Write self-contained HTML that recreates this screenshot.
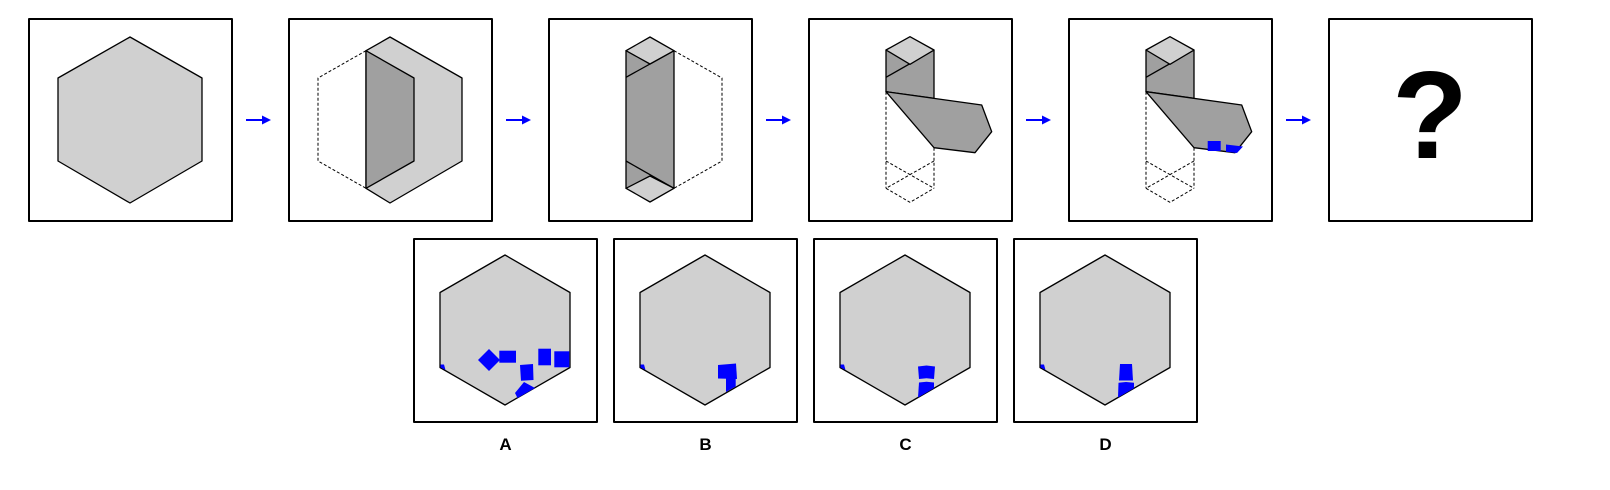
<!DOCTYPE html>
<html><head><meta charset="utf-8"><style>
html,body{margin:0;padding:0;background:#fff;}
svg{display:block;}
text{font-family:"Liberation Sans",Arial,sans-serif;}
</style></head><body>
<svg width="1610" height="490" viewBox="0 0 1610 490">
<defs>
<g id="arrow"><line x1="0" y1="0" x2="18" y2="0" stroke="#0000ff" stroke-width="2"/><polygon points="16,-4.5 25,0 16,4.5" fill="#0000ff"/></g>
</defs>
<g stroke="#000" stroke-linejoin="round">
<g transform="translate(29,19)">
<rect x="0" y="0" width="203" height="202" fill="#fff" stroke-width="2"/>
<polygon points="101,18 173,59 173,142 101,184 29,142 29,59" fill="#d0d0d0" stroke-width="1.3"/>
</g>
<use href="#arrow" x="246" y="120" stroke="none"/>
<g transform="translate(289,19)">
<rect x="0" y="0" width="203" height="202" fill="#fff" stroke-width="2"/>
<polyline points="77,31.7 29,59 29,142 77,169.3" fill="none" stroke-width="1" stroke-dasharray="3,2"/>
<polygon points="77,31.7 101,18 173,59 173,142 101,184 77,169.3" fill="#d0d0d0" stroke-width="1.3"/>
<polygon points="77,31.7 125,59 125,142 77,169.3" fill="#a0a0a0" stroke-width="1.3"/>
</g>
<use href="#arrow" x="506" y="120" stroke="none"/>
<g transform="translate(549,19)">
<rect x="0" y="0" width="203" height="202" fill="#fff" stroke-width="2"/>
<polyline points="125,31.7 173,59 173,142 125,169.3" fill="none" stroke-width="1" stroke-dasharray="3,2"/>
<rect x="77" y="31.7" width="48" height="137.6" fill="#a0a0a0" stroke-width="1.3"/>
<line x1="77" y1="58.3" x2="125" y2="31.7" stroke-width="1.3"/>
<line x1="77" y1="142" x2="125" y2="169.3" stroke-width="1.3"/>
<polygon points="77,31.7 101,18 125,31.7 101,45" fill="#d0d0d0" stroke-width="1.3"/>
<polygon points="77,169.3 101,157 125,169.3 101,183" fill="#d0d0d0" stroke-width="1.3"/>
</g>
<use href="#arrow" x="766" y="120" stroke="none"/>
<g transform="translate(809,19)">
<rect x="0" y="0" width="203" height="202" fill="#fff" stroke-width="2"/>
<g fill="none" stroke-width="1" stroke-dasharray="3,2">
<line x1="77" y1="72.7" x2="77" y2="169.3"/><line x1="125" y1="128.7" x2="125" y2="169.3"/>
<line x1="77" y1="142" x2="125" y2="169.3"/><line x1="125" y1="142" x2="77" y2="169.3"/>
<polyline points="77,169.3 101,183.3 125,169.3"/>
</g>
<polygon points="77,31 125,31 125,79.3 77,72.7" fill="#a0a0a0" stroke-width="1.3"/>
<line x1="77" y1="58.3" x2="125" y2="31" stroke-width="1.3"/>
<polygon points="77,31 101,17.7 125,31 101,45.3" fill="#d0d0d0" stroke-width="1.3"/>
<polygon points="77,72.7 172.7,86 182.7,112.7 166,133.7 125,128.7" fill="#a0a0a0" stroke-width="1.3"/>
</g>
<use href="#arrow" x="1026" y="120" stroke="none"/>
<g transform="translate(1069,19)">
<rect x="0" y="0" width="203" height="202" fill="#fff" stroke-width="2"/>
<g fill="none" stroke-width="1" stroke-dasharray="3,2">
<line x1="77" y1="72.7" x2="77" y2="169.3"/><line x1="125" y1="128.7" x2="125" y2="169.3"/>
<line x1="77" y1="142" x2="125" y2="169.3"/><line x1="125" y1="142" x2="77" y2="169.3"/>
<polyline points="77,169.3 101,183.3 125,169.3"/>
</g>
<polygon points="77,31 125,31 125,79.3 77,72.7" fill="#a0a0a0" stroke-width="1.3"/>
<line x1="77" y1="58.3" x2="125" y2="31" stroke-width="1.3"/>
<polygon points="77,31 101,17.7 125,31 101,45.3" fill="#d0d0d0" stroke-width="1.3"/>
<polygon points="77,72.7 172.7,86 182.7,112.7 166,133.7 125,128.7" fill="#a0a0a0" stroke-width="1.3"/>
<g stroke="none" fill="#0000ff">
<rect x="138.7" y="122" width="13" height="10"/>
<polygon points="157,125.5 174,127.5 168,134 157,132.8"/>
</g>
</g>
<use href="#arrow" x="1286" y="120" stroke="none"/>
<g transform="translate(1329,19)">
<rect x="0" y="0" width="203" height="202" fill="#fff" stroke-width="2"/>
</g>
</g>
<text x="1430" y="158" text-anchor="middle" font-size="124" font-weight="bold" fill="#000">?</text>

<g stroke="#000" stroke-linejoin="round">
<g transform="translate(414,239)">
<rect x="0" y="0" width="183" height="183" fill="#fff" stroke-width="2"/>
<polygon points="91,16 156,53.5 156,128.5 91,166 26,128.5 26,53.5" fill="#d0d0d0" stroke-width="1.3"/>
<g stroke="none" fill="#0000ff">
<polygon points="26.5,125.5 30,125.5 31.5,131 26.5,128.5"/>
<polygon points="75,110 86,121 75,132 64,121"/>
<rect x="85.3" y="111.7" width="16.7" height="12"/>
<rect x="124.3" y="109.7" width="12.7" height="16.6"/>
<rect x="140.3" y="112.3" width="15" height="16"/>
<polygon points="106,126 119,125 119.5,141 107,141.7"/>
<polygon points="101,154 110,143 121,149 103.5,159"/>
</g>
</g>
<g transform="translate(614,239)">
<rect x="0" y="0" width="183" height="183" fill="#fff" stroke-width="2"/>
<polygon points="91,16 156,53.5 156,128.5 91,166 26,128.5 26,53.5" fill="#d0d0d0" stroke-width="1.3"/>
<g stroke="none" fill="#0000ff">
<polygon points="26.5,125.5 30,125.5 31.5,131 26.5,128.5"/>
<polygon points="104,126 122,124.5 123,140 104,139.5"/>
<polygon points="112,139 121.7,139 121.7,147.5 112,153"/>
</g>
</g>
<g transform="translate(814,239)">
<rect x="0" y="0" width="183" height="183" fill="#fff" stroke-width="2"/>
<polygon points="91,16 156,53.5 156,128.5 91,166 26,128.5 26,53.5" fill="#d0d0d0" stroke-width="1.3"/>
<g stroke="none" fill="#0000ff">
<polygon points="26.5,125.5 30,125.5 31.5,131 26.5,128.5"/>
<polygon points="104,127.5 112.5,126.5 121,127.5 120,140 112.5,139.3 105,140"/>
<polygon points="105,143.5 112.5,142.8 120,143.5 120,149.3 104,158.5"/>
</g>
</g>
<g transform="translate(1014,239)">
<rect x="0" y="0" width="183" height="183" fill="#fff" stroke-width="2"/>
<polygon points="91,16 156,53.5 156,128.5 91,166 26,128.5 26,53.5" fill="#d0d0d0" stroke-width="1.3"/>
<g stroke="none" fill="#0000ff">
<polygon points="26.5,125.5 30,125.5 31.5,131 26.5,128.5"/>
<polygon points="106,125 118,125 119,141.5 105,141.5"/>
<polygon points="104.5,143.7 112,143 120,143.7 120,149.3 104,158.5"/>
</g>
</g>
</g>
<g font-size="17" font-weight="bold" text-anchor="middle" fill="#000">
<text x="505.5" y="450">A</text>
<text x="705.5" y="450">B</text>
<text x="905.5" y="450">C</text>
<text x="1105.5" y="450">D</text>
</g>
</svg>
</body></html>
